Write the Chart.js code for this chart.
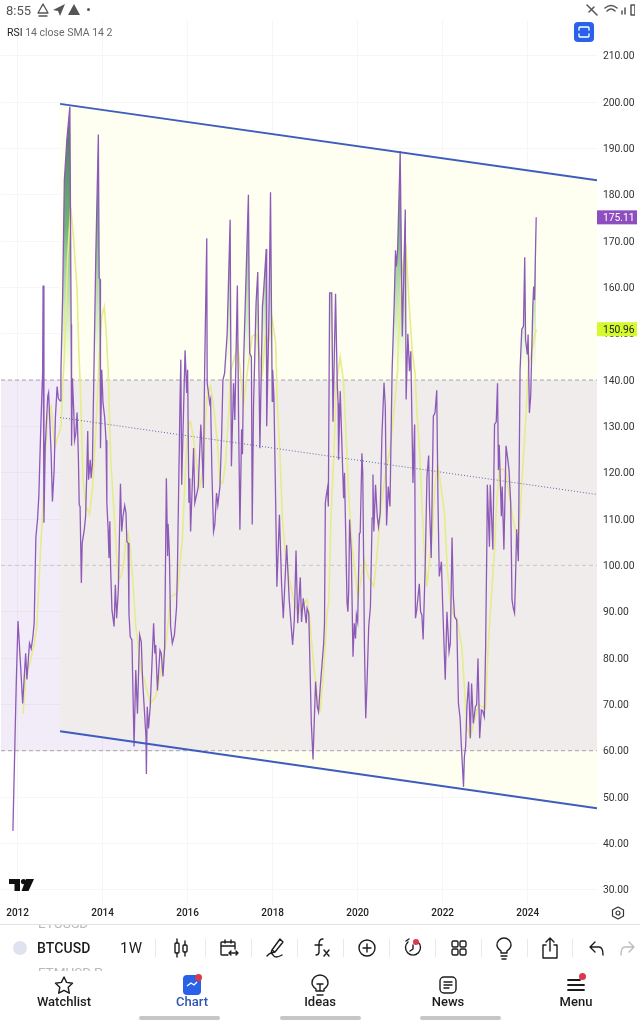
<!DOCTYPE html>
<html>
<head>
<meta charset="utf-8">
<script src="https://cdn.jsdelivr.net/npm/chart.js"></script>
<style>
  html, body { margin: 0; padding: 0; background: #fff; }
  body { width: 640px; height: 1024px; position: relative; overflow: hidden; font-family: Roboto, sans-serif; color: #1c1c1c; }
  canvas { position: absolute; left: 0; top: 0; }
  .abs { position: absolute; white-space: nowrap; }
  .sep { position: absolute; top: 939px; width: 1px; height: 18px; background: #e9e9e9; }
  .navlabel { position: absolute; top: 994px; width: 100px; text-align: center; font-size: 13px; font-weight: 500; }
  .pill { position: absolute; top: 1016px; height: 4px; border-radius: 2px; background: #c6c6c6; }
  .ic { position: absolute; fill: none; stroke: #1c1c1c; stroke-width: 1.4; stroke-linecap: round; stroke-linejoin: round; }
  .dot { position: absolute; width: 7px; height: 7px; border-radius: 50%; background: #e0364a; }
</style>
</head>
<body>
<canvas id="rsiChart" width="640" height="924"></canvas>

<!-- status bar -->
<div class="abs" style="left:6px;top:3px;font-size:13px;color:#555">8:55</div>
<svg class="ic" style="left:36px;top:3px;stroke:#555;stroke-width:1.3" width="14" height="14"><path d="M7 1 L12 10 L2 10 Z M3 13 H11"/></svg>
<svg class="ic" style="left:52px;top:3px;fill:#555;stroke:none" width="14" height="14"><path d="M13 1 L1 7 L6 8 L8 13 Z"/></svg>
<svg class="ic" style="left:67px;top:3px;fill:#555;stroke:none" width="14" height="14"><path d="M7 1 L13 12 L1 12 Z"/></svg>
<div class="abs" style="left:87px;top:8px;width:3px;height:3px;border-radius:50%;background:#555"></div>
<svg class="ic" style="left:585px;top:3px;stroke:#555;stroke-width:1.5" width="50" height="14"><path d="M2 2 L12 12 M4 9 L9 4 M20 5 Q26 0 32 5 M22 8 Q26 4 30 8"/><path d="M37 11 V8 M40 11 V5 M46 12 V2 H50 V12 Z"/></svg>

<!-- legend and fullscreen button -->
<div class="abs" style="left:7px;top:26px;font-size:10.5px;color:#6a6a6a"><span style="color:#222">RSI</span> 14 close SMA 14 2</div>
<div class="abs" style="left:574px;top:22px;width:20px;height:20px;border-radius:4px;background:#2962e8"></div>
<svg class="ic" style="left:574px;top:22px;stroke:#fff" width="20" height="20"><path d="M5 8 V6 Q5 5 6 5 H14 Q15 5 15 6 V8 M5 12 V14 Q5 15 6 15 H14 Q15 15 15 14 V12"/></svg>

<!-- logo -->
<svg class="abs" style="left:9px;top:879px" width="26" height="13"><path d="M0 0 H11 V12 H5.5 V5 H0 Z M17 0 H25 L19.5 12 H12.5 Z" fill="#111"/><circle cx="14.5" cy="2.6" r="2.6" fill="#111"/></svg>

<!-- settings hexagon -->
<svg class="ic" style="left:611px;top:906px;stroke-width:1.2;stroke:#333" width="14" height="14"><path d="M7 1 L12.5 4 V10 L7 13 L1.5 10 V4 Z"/><circle cx="7" cy="7" r="2"/></svg>

<!-- toolbar -->
<div class="abs" style="left:0;top:924px;width:640px;height:1px;background:#e2e2e2"></div>
<div class="abs" style="left:38px;top:925px;width:90px;height:6px;overflow:hidden;color:#b9b9b9;font-size:13.5px;line-height:6px"><div style="margin-top:-5px">ETCUSD</div></div>
<div class="abs" style="left:38px;top:965px;width:90px;height:6px;overflow:hidden;color:#b9b9b9;font-size:13.5px;line-height:14px">FTMUSD.P</div>
<div class="abs" style="left:13px;top:941px;width:14px;height:14px;border-radius:50%;background:#dfe3ee"></div>
<div class="abs" style="left:37px;top:940px;font-size:14px;font-weight:500;letter-spacing:.1px">BTCUSD</div>
<div class="abs" style="left:120px;top:939px;font-size:15px;letter-spacing:.4px">1W</div>
<div class="sep" style="left:155px"></div><div class="sep" style="left:205px"></div><div class="sep" style="left:251px"></div>
<div class="sep" style="left:297px"></div><div class="sep" style="left:343px"></div><div class="sep" style="left:389px"></div>
<div class="sep" style="left:435px"></div><div class="sep" style="left:481px"></div><div class="sep" style="left:527px"></div><div class="sep" style="left:572px"></div>

<svg class="ic" style="left:172px;top:938px" width="18" height="20"><rect x="3" y="5" width="4" height="10" rx="1"/><rect x="11" y="7" width="4" height="7" rx="1"/><path d="M5 1 V5 M5 15 V19 M13 3 V7 M13 14 V18"/></svg>
<svg class="ic" style="left:219px;top:938px" width="20" height="20"><path d="M9 17 H3 Q2 17 2 16 V5 Q2 4 3 4 H15 Q16 4 16 5 V11 M2 8 H16 M6 2 V5 M12 2 V5 M10 15 H19 M12 13 L10 15 L12 17 M17 13 L19 15 L17 17"/></svg>
<svg class="ic" style="left:265px;top:937px" width="20" height="22"><path d="M7 13 L15 2 L18 5 L10 15 Z M7 13 L6 16 L10 15 M2 19 Q6 14 8 18 T17 18"/></svg>
<svg class="ic" style="left:312px;top:938px" width="20" height="20"><path d="M11 1 Q7 1 7 6 V14 Q7 17 4 17 M3 7 H10 M12 12 L17 18 M17 12 L12 18"/></svg>
<svg class="ic" style="left:357px;top:938px" width="20" height="20"><circle cx="10" cy="10" r="8"/><path d="M10 6 V14 M6 10 H14"/></svg>
<svg class="ic" style="left:403px;top:938px" width="20" height="20"><path d="M5 4 A7.5 7.5 0 1 0 15 4 M3 3 L6 1 M10 7 V11 L7 13"/></svg>
<div class="dot" style="left:413px;top:939px;width:6px;height:6px"></div>
<svg class="ic" style="left:449px;top:938px" width="20" height="20"><rect x="3" y="3" width="6" height="6" rx="1.5"/><rect x="11" y="3" width="6" height="6" rx="1.5"/><rect x="3" y="11" width="6" height="6" rx="1.5"/><rect x="11" y="11" width="6" height="6" rx="1.5"/></svg>
<svg class="ic" style="left:494px;top:937px" width="20" height="23"><path d="M7 14 Q3 11 3 8 A7 7 0 0 1 17 8 Q17 11 13 14 V16 H7 Z M7 19 H13 M8 22 H12"/></svg>
<svg class="ic" style="left:540px;top:936px" width="20" height="24"><path d="M6 9 H3 V22 H17 V9 H14 M10 15 V2 M6 6 L10 2 L14 6"/></svg>
<svg class="ic" style="left:587px;top:938px" width="20" height="20"><path d="M3 9 L8 4 M3 9 L8 14 M3 9 H12 Q16 9 16 17"/></svg>
<svg class="ic" style="left:617px;top:938px;stroke:#bcbcbc" width="20" height="20"><path d="M17 9 L12 4 M17 9 L12 14 M17 9 H8 Q4 9 4 17"/></svg>

<!-- bottom nav -->
<svg class="ic" style="left:54px;top:975px" width="20" height="20"><path d="M10 2 L12.6 7.4 L18.5 8.2 L14.2 12.3 L15.3 18.2 L10 15.4 L4.7 18.2 L5.8 12.3 L1.5 8.2 L7.4 7.4 Z"/></svg>
<svg class="abs" style="left:183px;top:975px" width="18" height="20"><rect width="18" height="20" rx="4" fill="#2962e8"/><path d="M4 11 L8 8 L11 10 L14 7" fill="none" stroke="#fff" stroke-width="1.3"/></svg>
<div class="dot" style="left:195px;top:974px"></div>
<svg class="ic" style="left:310px;top:974px" width="20" height="24"><path d="M6 15 Q2 12 2 9 A8 8 0 0 1 18 9 Q18 12 14 15 V17 H6 Z M7 21 H13 M10 17 V11 M7 10 H13"/></svg>
<svg class="ic" style="left:438px;top:975px" width="20" height="20"><rect x="2" y="2" width="16" height="16" rx="4"/><path d="M6 7 H14 M6 10 H14 M6 13 H11"/></svg>
<svg class="ic" style="left:566px;top:977px" width="20" height="16"><path d="M2 3 H14 M2 8 H18 M2 13 H18" stroke-width="1.8"/></svg>
<div class="dot" style="left:579px;top:973px"></div>
<div class="navlabel" style="left:14px">Watchlist</div>
<div class="navlabel" style="left:142px;color:#2f56b0">Chart</div>
<div class="navlabel" style="left:270px">Ideas</div>
<div class="navlabel" style="left:398px">News</div>
<div class="navlabel" style="left:526px">Menu</div>
<div class="pill" style="left:139px;width:81px"></div>
<div class="pill" style="left:280px;width:81px"></div>
<div class="pill" style="left:420px;width:81px"></div>

<script>
// Axis
const xTicks = [2012, 2014, 2016, 2018, 2020, 2022, 2024];
const yTicks = [30, 40, 50, 60, 70, 80, 90, 100, 110, 120, 130, 140, 150, 160, 170, 180, 190, 200, 210];

// RSI line
const rsiYears = [2011.89,2011.97,2012.01,2012.07,2012.12,2012.19,2012.22,2012.28,2012.32,2012.36,2012.39,2012.43,2012.47,2012.50,2012.54,2012.59,2012.60,2012.62,2012.65,2012.71,2012.73,2012.76,2012.79,2012.82,2012.86,2012.89,2012.93,2012.96,2013.00,2013.02,2013.06,2013.10,2013.16,2013.23,2013.26,2013.27,2013.29,2013.32,2013.34,2013.37,2013.40,2013.43,2013.45,2013.47,2013.50,2013.52,2013.57,2013.60,2013.63,2013.65,2013.67,2013.71,2013.73,2013.76,2013.79,2013.84,2013.90,2013.92,2013.94,2013.95,2013.98,2014.01,2014.05,2014.08,2014.10,2014.13,2014.15,2014.17,2014.19,2014.22,2014.27,2014.30,2014.33,2014.37,2014.42,2014.45,2014.48,2014.52,2014.55,2014.57,2014.60,2014.62,2014.65,2014.69,2014.74,2014.78,2014.82,2014.87,2014.91,2014.94,2015.02,2015.03,2015.05,2015.08,2015.12,2015.20,2015.23,2015.25,2015.29,2015.35,2015.38,2015.42,2015.46,2015.50,2015.53,2015.54,2015.57,2015.60,2015.64,2015.69,2015.74,2015.76,2015.82,2015.84,2015.86,2015.94,2015.98,2016.00,2016.03,2016.05,2016.07,2016.14,2016.17,2016.23,2016.25,2016.31,2016.33,2016.37,2016.40,2016.45,2016.46,2016.52,2016.54,2016.57,2016.61,2016.64,2016.68,2016.71,2016.76,2016.80,2016.83,2016.87,2016.93,2017.00,2017.03,2017.08,2017.11,2017.17,2017.20,2017.23,2017.27,2017.29,2017.32,2017.43,2017.46,2017.50,2017.52,2017.55,2017.61,2017.65,2017.70,2017.76,2017.79,2017.85,2017.86,2017.91,2017.95,2017.99,2018.00,2018.03,2018.07,2018.10,2018.16,2018.21,2018.25,2018.33,2018.39,2018.47,2018.51,2018.55,2018.59,2018.65,2018.68,2018.72,2018.79,2018.81,2018.85,2018.91,2018.95,2019.01,2019.05,2019.08,2019.12,2019.20,2019.22,2019.24,2019.26,2019.29,2019.31,2019.34,2019.39,2019.42,2019.48,2019.52,2019.54,2019.55,2019.59,2019.64,2019.67,2019.69,2019.72,2019.75,2019.77,2019.79,2019.81,2019.85,2019.89,2019.92,2019.95,2019.97,2020.00,2020.04,2020.06,2020.10,2020.12,2020.16,2020.19,2020.22,2020.26,2020.30,2020.34,2020.36,2020.38,2020.42,2020.46,2020.49,2020.53,2020.57,2020.62,2020.65,2020.68,2020.72,2020.76,2020.78,2020.81,2020.86,2020.89,2020.91,2020.94,2021.00,2021.05,2021.12,2021.14,2021.18,2021.22,2021.25,2021.30,2021.34,2021.36,2021.39,2021.45,2021.48,2021.51,2021.54,2021.59,2021.63,2021.67,2021.69,2021.73,2021.78,2021.82,2021.86,2021.89,2021.92,2021.97,2022.00,2022.06,2022.10,2022.15,2022.18,2022.22,2022.25,2022.28,2022.33,2022.37,2022.41,2022.44,2022.49,2022.51,2022.54,2022.57,2022.61,2022.65,2022.68,2022.72,2022.77,2022.80,2022.83,2022.87,2022.91,2022.94,2022.98,2023.01,2023.04,2023.05,2023.10,2023.12,2023.18,2023.22,2023.26,2023.29,2023.31,2023.33,2023.38,2023.40,2023.44,2023.49,2023.53,2023.56,2023.60,2023.63,2023.66,2023.69,2023.71,2023.74,2023.78,2023.82,2023.86,2023.90,2023.93,2023.95,2023.99,2024.01,2024.04,2024.07,2024.12,2024.14,2024.16,2024.20];
const rsiValues = [42.7,75,88,78.5,70.2,81,75.4,83.2,82,84.6,87.5,106,110,115,128,142,160.4,109.2,125.7,136.5,137.3,130.7,124,113.8,120.6,132,138.6,136,135.5,142,158,183,192,199,152,125.8,140.4,133.6,127,128.5,133,123.5,113,112.7,96.2,104.8,107.7,110.6,120.6,129,118.5,122.8,118.8,122,138.6,166.7,193,162,161.7,125.3,142.2,135,131.8,127,113.5,107.7,101.6,109.5,99,90.4,86.8,95.8,88.6,94.7,117.6,107.3,110.6,112.9,111.3,105.2,104.8,89.6,84.6,83.9,60.9,77.4,68,85,83.5,75.3,63,55,69.5,64.8,69.5,87.5,81,82.8,73,81.7,81,76,82.4,118.8,102,109,102.7,86.8,83.2,85,91,99,135,144.4,117.4,146.4,137.2,142.2,113.5,118.8,107.3,125.3,113.5,116,117,130.4,127,116.7,142,170.6,139.4,135,135.8,120.6,107.3,108.8,115.6,113,117,127.8,140,141.5,150,174.6,121.4,139.3,131.4,160.4,130.7,107.7,129.4,124,145,180,145.8,145,108.8,134.3,156.6,163.3,125.3,155.9,159.5,168.3,130,152.3,180.5,135.4,142.2,136.5,114,95.4,110.9,96,88.6,104.4,92.5,82.8,88.2,103.2,87.5,97.4,87.8,92.9,87.5,90.7,89.6,65.9,58.1,74.9,69.5,68.4,73.8,83.2,87.5,113.5,115,116.7,112.7,158.8,158.8,131,158.6,139,135,122.8,137.6,122.8,114.5,120,106.3,92,90,94.7,109.9,102.7,80.3,87.5,84.2,89.3,87.8,106.9,107,124.2,120,82.4,67,74.5,86.8,91,110.2,119.6,107.3,117.4,110.6,108.3,111.3,127.8,139.4,134.3,108.6,117,112.7,124.2,142,156.6,168,164.5,168,189.4,149.4,176.8,135.8,150,141.9,146.2,117.8,130.4,88.6,90.4,96,90,89.3,84,100.4,119.2,123.7,112.7,101.6,132.2,132.9,137.8,113.5,97.6,100.8,91.4,75.3,90,81.4,83.2,106,93.2,88.9,88.2,70.2,67,60.9,52.2,58.7,60.9,69.5,74.9,62.7,74.5,65.9,69.5,70,79.9,62.7,68.8,68.6,67.3,82.4,105.5,117.4,104,117.4,103.4,130.4,131,139.3,120.6,126,110.6,117,103.4,125.8,123,120.6,113.5,92.6,90.8,89.7,95.8,107.8,100.9,142,150.9,151.6,166.5,148.7,145.5,149.8,132.9,136.5,155.9,160.2,157.3,175.11];

// SMA line
const smaYears = [2012.13,2012.20,2012.28,2012.39,2012.45,2012.54,2012.59,2012.63,2012.67,2012.71,2012.79,2012.83,2012.88,2012.94,2013.02,2013.06,2013.10,2013.18,2013.25,2013.32,2013.40,2013.44,2013.47,2013.51,2013.54,2013.61,2013.69,2013.76,2013.84,2013.88,2013.92,2013.98,2014.04,2014.08,2014.13,2014.19,2014.27,2014.33,2014.38,2014.43,2014.49,2014.54,2014.60,2014.66,2014.72,2014.78,2014.82,2014.90,2014.98,2015.06,2015.13,2015.25,2015.33,2015.42,2015.50,2015.60,2015.76,2015.88,2015.93,2015.98,2016.03,2016.07,2016.13,2016.21,2016.29,2016.37,2016.42,2016.46,2016.54,2016.62,2016.70,2016.76,2016.83,2016.89,2016.97,2017.01,2017.05,2017.18,2017.26,2017.31,2017.40,2017.52,2017.62,2017.70,2017.76,2017.83,2017.90,2017.99,2018.07,2018.11,2018.17,2018.23,2018.30,2018.38,2018.46,2018.54,2018.62,2018.69,2018.81,2018.87,2018.97,2019.08,2019.12,2019.20,2019.28,2019.32,2019.37,2019.44,2019.50,2019.59,2019.67,2019.75,2019.79,2019.87,2019.95,2020.01,2020.10,2020.16,2020.26,2020.38,2020.46,2020.53,2020.61,2020.67,2020.77,2020.85,2020.94,2020.96,2021.02,2021.13,2021.20,2021.28,2021.35,2021.39,2021.46,2021.51,2021.57,2021.63,2021.75,2021.82,2021.88,2021.94,2022.04,2022.11,2022.18,2022.25,2022.33,2022.45,2022.51,2022.57,2022.65,2022.75,2022.84,2023.01,2023.07,2023.15,2023.22,2023.26,2023.33,2023.41,2023.49,2023.57,2023.65,2023.73,2023.78,2023.86,2023.94,2024.02,2024.10,2024.20];
const smaValues = [68,76.7,78.5,83,86.5,103.4,111.3,120.6,126.4,132.9,134.3,130,125.3,127.5,130,138.6,145,166.7,177.3,170.3,159.5,146.5,140,128,118.5,112.7,111,116.3,129,136.5,145,153.7,155.8,150.9,142.2,123,111.3,102,96.8,97.6,99.8,104.8,107,102.7,95.5,86.8,83.9,77.4,75.3,72.4,70.2,71.7,75.3,79.2,83.9,93.2,94,106,117,126.4,130.7,131,127.8,122,117,121,131.4,136.5,138.6,133.6,126.4,117.8,117.8,122,133.6,142,143,147.6,140,134.3,141.5,149.4,150,145,141.5,149.4,148.3,153.2,148,135,124.2,109.9,102.7,97.6,94,91.2,89.7,91.2,92.6,88.5,78,69.5,68.8,77.4,89.6,92,109.9,124,139.4,144.9,139.4,123.5,114.9,104,97.6,93,98.3,101.2,97.3,95.5,102.7,110.6,117,120.6,125.7,132.9,142,148.7,161,169.6,158,146.5,141.5,133.6,124.2,113.5,102.7,95.5,106.3,117.8,121.7,118.5,111.3,99,92,89.4,88.6,82.4,73.8,65.2,63,66.6,69.9,69.1,82.4,94,103.4,112,120.6,120.8,120,115,110,107,104.4,117.7,129.3,143,146.5,150.96];

// Channel drawn on the chart
const channelYears = [2013.0, 2025.63];
const channelTop = [199.6, 183.1];
const channelMid = [131.9, 115.3];
const channelBottom = [64.2, 47.6];

// RSI band levels
const bandYears = [2011.61, 2025.63];
const bandTop = [140, 140];
const bandMiddle = [100, 100];
const bandBottom = [60, 60];

const overbought = 140;
const lastRsi = 175.11;
const lastSma = 150.96;

function toPoints(xs, ys) {
  return xs.map((x, i) => ({ x: x, y: ys[i] }));
}

// price tags on the right axis
const priceTags = {
  id: 'priceTags',
  afterDraw(chart) {
    const ctx = chart.ctx;
    const tags = [
      { value: lastRsi, bg: '#8e4ec0', fg: '#ffffff' },
      { value: lastSma, bg: '#d4f92c', fg: '#222222' }
    ];
    ctx.save();
    ctx.font = '10.3px Roboto';
    ctx.textBaseline = 'middle';
    tags.forEach(t => {
      const py = chart.scales.y.getPixelForValue(t.value);
      ctx.fillStyle = t.bg;
      ctx.fillRect(597, py - 7, 40, 14);
      ctx.fillStyle = t.fg;
      ctx.fillText(t.value.toFixed(2), 603, py + 1);
    });
    ctx.restore();
  }
};

function flatLine(ys, color, dash) {
  return {
    data: toPoints(bandYears, ys), borderColor: color, borderWidth: 1,
    borderDash: dash, pointRadius: 0, fill: false, order: 7
  };
}

const chart = new Chart(document.getElementById('rsiChart').getContext('2d'), {
  type: 'line',
  data: {
    datasets: [
      // 0,1 channel background
      { data: toPoints(channelYears, channelTop), borderWidth: 0, pointRadius: 0, fill: 1, backgroundColor: '#fefff1', order: 10 },
      { data: toPoints(channelYears, channelBottom), borderWidth: 0, pointRadius: 0, fill: false, order: 10 },
      // 2,3 RSI band background
      { data: toPoints(bandYears, bandTop), borderWidth: 0, pointRadius: 0, fill: 3, backgroundColor: 'rgba(120,70,190,0.1)', order: 9 },
      { data: toPoints(bandYears, bandBottom), borderWidth: 0, pointRadius: 0, fill: false, order: 9 },
      flatLine(bandTop, '#a9a3a9', [4, 3]),
      flatLine(bandMiddle, '#c9c4c9', [4, 3]),
      flatLine(bandBottom, '#a9a3a9', [4, 3]),
      // 7 gradient fill over the overbought level
      { data: toPoints(rsiYears, rsiValues), borderWidth: 0, pointRadius: 0, fill: { target: { value: overbought }, above: 'rgba(0,0,0,0)', below: 'rgba(0,0,0,0)' }, order: 6 },
      { label: 'SMA', data: toPoints(smaYears, smaValues), borderColor: '#e5ec8a', borderWidth: 1.6, pointRadius: 0, fill: false, order: 5 },
      { label: 'RSI', data: toPoints(rsiYears, rsiValues), borderColor: '#8d5ab8', borderWidth: 1.3, pointRadius: 0, fill: false, order: 4 },
      // channel lines on top
      { data: toPoints(channelYears, channelMid), borderColor: '#5a68ae', borderWidth: 1, borderDash: [1, 2], pointRadius: 0, fill: false, order: 3 },
      { data: toPoints(channelYears, channelTop), borderColor: '#3d5cbd', borderWidth: 2, pointRadius: 0, fill: false, order: 2 },
      { data: toPoints(channelYears, channelBottom), borderColor: '#3d5cbd', borderWidth: 2, pointRadius: 0, fill: false, order: 2 }
    ]
  },
  options: {
    responsive: false,
    animation: false,
    layout: { padding: { top: 20, right: 0, left: 0, bottom: 0 } },
    plugins: { legend: { display: false }, tooltip: { enabled: false } },
    scales: {
      x: {
        type: 'linear', min: 2011.61, max: 2025.63,
        grid: { color: '#f6f6f6', drawTicks: false },
        border: { display: false },
        afterBuildTicks(scale) { scale.ticks = xTicks.map(v => ({ value: v })); },
        afterFit(scale) { scale.height = 19; },
        ticks: {
          autoSkip: false, maxRotation: 0, padding: 2, color: '#222',
          font: { family: 'Roboto', size: 10, weight: '500' },
          callback: v => String(v)
        }
      },
      y: {
        position: 'right', min: 26.7, max: 217.7,
        grid: { color: '#f6f6f6', drawTicks: false },
        border: { display: false },
        afterBuildTicks(scale) { scale.ticks = yTicks.map(v => ({ value: v })); },
        afterFit(scale) { scale.width = 43; },
        ticks: {
          padding: 6, color: '#333', labelOffset: 1,
          font: { family: 'Roboto', size: 10.3 },
          callback: v => v.toFixed(2)
        }
      }
    }
  },
  plugins: [priceTags]
});

// gradient needs the scale, so it goes in after the first draw
const yScale = chart.scales.y;
const gradient = chart.ctx.createLinearGradient(0, yScale.getPixelForValue(200), 0, yScale.getPixelForValue(overbought));
gradient.addColorStop(0, 'rgba(50,110,70,0.95)');
gradient.addColorStop(0.45, 'rgba(100,170,110,0.9)');
gradient.addColorStop(0.8, 'rgba(190,230,170,0.6)');
gradient.addColorStop(1, 'rgba(230,245,200,0)');
chart.data.datasets[7].fill.above = gradient;
chart.update('none');
</script>
</body>
</html>
